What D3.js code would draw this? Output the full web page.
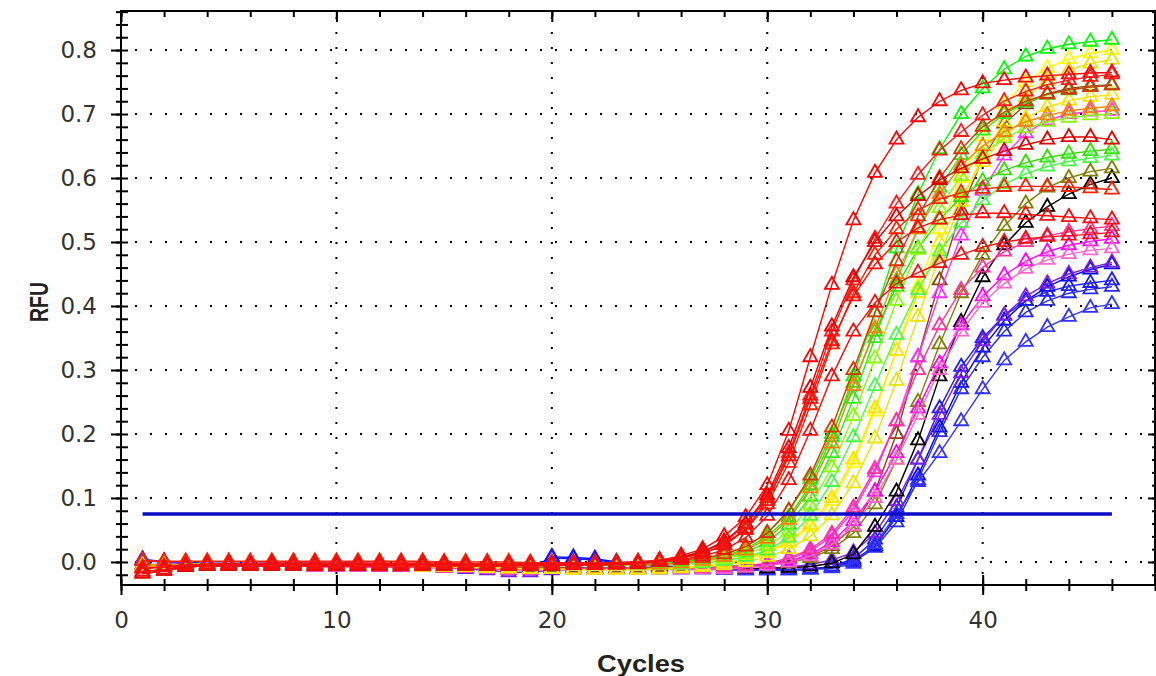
<!DOCTYPE html>
<html>
<head>
<meta charset="utf-8">
<script src="https://cdn.jsdelivr.net/npm/d3@7"></script>
<style>
html, body { margin: 0; padding: 0; background: #fff; }
svg { display: block; }
.tick text { font-family: "DejaVu Sans", sans-serif; font-size: 23px; fill: #333; }
.tick line { stroke: #000; stroke-width: 2; }
</style>
</head>
<body>
<svg id="canvas" width="1156" height="676"></svg>
<script>
// eje x: ciclos
const cycles = [1,2,3,4,5,6,7,8,9,10,11,12,13,14,15,16,17,18,19,20,21,22,23,24,25,26,27,28,29,30,31,32,33,34,35,36,37,38,39,40,41,42,43,44,45,46]
const xTicks = [0, 10, 20, 30, 40]
const yTicks = [0.0, 0.1, 0.2, 0.3, 0.4, 0.5, 0.6, 0.7, 0.8]
const threshold = 0.075

// curvas (RFU por ciclo)
const blue1 = [0.004,0.001,-0.001,-0.002,-0.002,-0.002,-0.002,-0.002,-0.002,-0.002,-0.002,-0.003,-0.003,-0.004,-0.005,-0.006,-0.008,-0.010,-0.010,0.008,0.007,0.005,0.000,-0.004,-0.006,-0.008,-0.010,-0.011,-0.012,-0.012,-0.012,-0.011,-0.008,0.002,0.025,0.070,0.135,0.210,0.280,0.335,0.377,0.408,0.430,0.446,0.457,0.465]
const blue2 = [0.002,0.000,-0.002,-0.003,-0.003,-0.003,-0.003,-0.003,-0.003,-0.003,-0.003,-0.004,-0.004,-0.005,-0.006,-0.007,-0.009,-0.011,-0.011,0.006,0.005,0.003,-0.001,-0.004,-0.006,-0.008,-0.010,-0.011,-0.012,-0.012,-0.012,-0.011,-0.007,0.005,0.035,0.085,0.160,0.240,0.305,0.350,0.385,0.408,0.422,0.431,0.436,0.440]
const blue3 = [-0.005,-0.005,-0.005,-0.005,-0.005,-0.005,-0.005,-0.005,-0.006,-0.006,-0.006,-0.006,-0.007,-0.007,-0.007,-0.008,-0.008,-0.009,-0.009,-0.009,-0.010,-0.010,-0.010,-0.010,-0.007,-0.009,-0.011,-0.012,-0.013,-0.013,-0.013,-0.012,-0.009,0.000,0.022,0.062,0.128,0.203,0.270,0.320,0.360,0.390,0.408,0.420,0.426,0.430]
const blue4 = [-0.004,-0.004,-0.004,-0.004,-0.004,-0.004,-0.005,-0.005,-0.005,-0.005,-0.006,-0.006,-0.006,-0.007,-0.007,-0.008,-0.008,-0.009,-0.009,-0.009,-0.009,-0.010,-0.010,-0.010,-0.007,-0.009,-0.011,-0.012,-0.013,-0.013,-0.013,-0.012,-0.010,-0.003,0.028,0.075,0.125,0.170,0.220,0.270,0.315,0.344,0.367,0.383,0.397,0.403]
const violet1 = [0.003,0.000,-0.002,-0.003,-0.003,-0.003,-0.003,-0.003,-0.004,-0.004,-0.005,-0.006,-0.007,-0.008,-0.009,-0.011,-0.013,-0.016,-0.016,-0.013,-0.012,-0.012,-0.012,-0.012,-0.012,-0.012,-0.012,-0.012,-0.011,-0.010,-0.008,-0.004,0.003,0.015,0.045,0.095,0.160,0.230,0.295,0.345,0.385,0.415,0.435,0.450,0.460,0.468]
const black1 = [-0.005,-0.005,-0.005,-0.005,-0.005,-0.005,-0.005,-0.005,-0.006,-0.006,-0.006,-0.006,-0.007,-0.007,-0.007,-0.008,-0.008,-0.009,-0.009,-0.009,-0.010,-0.010,-0.010,-0.010,-0.010,-0.010,-0.010,-0.010,-0.010,-0.010,-0.009,-0.007,-0.002,0.012,0.055,0.110,0.190,0.290,0.375,0.445,0.495,0.530,0.555,0.575,0.590,0.600]
const brown1 = [-0.005,-0.005,-0.005,-0.005,-0.005,-0.005,-0.005,-0.005,-0.006,-0.006,-0.006,-0.006,-0.007,-0.007,-0.007,-0.008,-0.008,-0.009,-0.009,-0.009,-0.010,-0.010,-0.010,-0.010,-0.008,-0.008,-0.008,-0.007,-0.006,-0.004,0.000,0.008,0.025,0.055,0.110,0.200,0.320,0.440,0.550,0.630,0.685,0.715,0.732,0.740,0.744,0.746]
const olive1 = [-0.005,-0.005,-0.005,-0.005,-0.005,-0.005,-0.005,-0.005,-0.006,-0.006,-0.006,-0.006,-0.007,-0.007,-0.007,-0.008,-0.008,-0.009,-0.009,-0.009,-0.010,-0.010,-0.010,-0.010,-0.009,-0.009,-0.009,-0.008,-0.007,-0.005,-0.001,0.006,0.020,0.045,0.090,0.160,0.250,0.340,0.420,0.480,0.525,0.560,0.585,0.600,0.610,0.615]
const magenta1 = [-0.006,-0.006,-0.006,-0.006,-0.006,-0.006,-0.006,-0.006,-0.007,-0.007,-0.007,-0.008,-0.008,-0.008,-0.009,-0.009,-0.010,-0.012,-0.012,-0.011,-0.011,-0.011,-0.011,-0.011,-0.011,-0.011,-0.010,-0.009,-0.007,-0.003,0.004,0.017,0.040,0.080,0.140,0.220,0.320,0.420,0.510,0.580,0.635,0.670,0.690,0.700,0.704,0.705]
const magenta2 = [-0.006,-0.006,-0.006,-0.006,-0.006,-0.006,-0.006,-0.006,-0.007,-0.007,-0.007,-0.008,-0.008,-0.008,-0.009,-0.009,-0.010,-0.012,-0.012,-0.011,-0.011,-0.011,-0.011,-0.011,-0.011,-0.011,-0.011,-0.010,-0.008,-0.005,0.001,0.012,0.031,0.064,0.110,0.170,0.240,0.310,0.370,0.415,0.448,0.470,0.485,0.495,0.501,0.505]
const pink1 = [-0.006,-0.006,-0.006,-0.006,-0.006,-0.006,-0.006,-0.006,-0.007,-0.007,-0.007,-0.008,-0.008,-0.008,-0.009,-0.009,-0.010,-0.012,-0.012,-0.011,-0.011,-0.011,-0.011,-0.011,-0.011,-0.011,-0.011,-0.011,-0.009,-0.006,-0.001,0.009,0.027,0.056,0.100,0.160,0.230,0.300,0.360,0.405,0.435,0.458,0.472,0.481,0.487,0.490]
const pink2 = [-0.006,-0.006,-0.006,-0.006,-0.006,-0.006,-0.006,-0.006,-0.007,-0.007,-0.007,-0.008,-0.008,-0.008,-0.009,-0.009,-0.010,-0.012,-0.012,-0.011,-0.011,-0.011,-0.011,-0.011,-0.010,-0.010,-0.009,-0.008,-0.006,-0.002,0.006,0.020,0.044,0.085,0.145,0.220,0.300,0.370,0.425,0.460,0.485,0.500,0.510,0.516,0.521,0.525]
const yellow1 = [-0.006,-0.005,-0.004,-0.004,-0.004,-0.004,-0.004,-0.004,-0.005,-0.005,-0.005,-0.006,-0.006,-0.007,-0.007,-0.008,-0.009,-0.010,-0.011,-0.011,-0.012,-0.012,-0.012,-0.012,-0.011,-0.009,-0.006,-0.002,0.004,0.014,0.030,0.055,0.095,0.155,0.235,0.330,0.430,0.520,0.600,0.665,0.715,0.750,0.772,0.786,0.795,0.800]
const yellow2 = [-0.006,-0.005,-0.004,-0.004,-0.004,-0.004,-0.004,-0.004,-0.005,-0.005,-0.005,-0.006,-0.006,-0.007,-0.007,-0.008,-0.009,-0.010,-0.011,-0.011,-0.012,-0.012,-0.012,-0.012,-0.012,-0.010,-0.008,-0.005,0.000,0.008,0.020,0.040,0.073,0.123,0.193,0.283,0.383,0.478,0.563,0.633,0.688,0.726,0.752,0.769,0.779,0.785]
const yellow3 = [-0.006,-0.005,-0.004,-0.004,-0.004,-0.004,-0.004,-0.004,-0.005,-0.005,-0.005,-0.006,-0.006,-0.007,-0.007,-0.008,-0.009,-0.010,-0.011,-0.011,-0.012,-0.012,-0.012,-0.012,-0.011,-0.009,-0.006,-0.002,0.005,0.016,0.032,0.058,0.100,0.160,0.240,0.330,0.420,0.500,0.570,0.625,0.665,0.693,0.711,0.721,0.727,0.730]
const green1 = [-0.008,-0.006,-0.004,-0.003,-0.003,-0.003,-0.003,-0.003,-0.003,-0.003,-0.003,-0.003,-0.003,-0.003,-0.003,-0.003,-0.004,-0.004,-0.004,-0.004,-0.004,-0.004,-0.004,-0.004,-0.003,0.000,0.004,0.010,0.020,0.040,0.070,0.120,0.195,0.290,0.390,0.490,0.575,0.645,0.700,0.740,0.770,0.790,0.802,0.809,0.813,0.816]
const green2 = [-0.008,-0.006,-0.004,-0.003,-0.003,-0.003,-0.003,-0.003,-0.003,-0.003,-0.003,-0.003,-0.003,-0.003,-0.003,-0.003,-0.004,-0.004,-0.004,-0.004,-0.004,-0.004,-0.004,-0.004,-0.004,-0.002,0.002,0.007,0.015,0.031,0.058,0.102,0.170,0.255,0.350,0.440,0.520,0.585,0.636,0.674,0.700,0.718,0.730,0.737,0.742,0.745]
const green3 = [-0.008,-0.006,-0.004,-0.003,-0.003,-0.003,-0.003,-0.003,-0.003,-0.003,-0.003,-0.003,-0.003,-0.003,-0.003,-0.003,-0.004,-0.004,-0.004,-0.004,-0.004,-0.004,-0.004,-0.004,-0.003,0.001,0.005,0.012,0.024,0.045,0.080,0.130,0.200,0.280,0.360,0.430,0.490,0.535,0.570,0.595,0.612,0.624,0.632,0.638,0.642,0.645]
const green4 = [-0.008,-0.006,-0.004,-0.003,-0.003,-0.003,-0.003,-0.003,-0.003,-0.003,-0.003,-0.003,-0.003,-0.003,-0.003,-0.003,-0.004,-0.004,-0.004,-0.004,-0.004,-0.004,-0.004,-0.004,-0.005,-0.004,-0.002,0.002,0.008,0.018,0.038,0.072,0.125,0.195,0.275,0.355,0.425,0.485,0.530,0.565,0.590,0.607,0.618,0.626,0.631,0.635]
const green5 = [-0.008,-0.006,-0.004,-0.003,-0.003,-0.003,-0.003,-0.003,-0.003,-0.003,-0.003,-0.003,-0.003,-0.003,-0.003,-0.003,-0.004,-0.004,-0.004,-0.004,-0.004,-0.004,-0.004,-0.004,-0.004,-0.002,0.001,0.005,0.012,0.025,0.048,0.088,0.148,0.228,0.318,0.408,0.488,0.553,0.603,0.638,0.662,0.678,0.688,0.694,0.698,0.700]
const orange1 = [-0.008,-0.006,-0.004,-0.003,-0.003,-0.003,-0.003,-0.003,-0.003,-0.003,-0.003,-0.003,-0.003,-0.003,-0.003,-0.003,-0.004,-0.004,-0.004,-0.004,-0.004,-0.004,-0.004,-0.004,-0.004,-0.002,0.002,0.008,0.018,0.036,0.066,0.115,0.185,0.275,0.365,0.450,0.520,0.575,0.620,0.650,0.672,0.688,0.698,0.705,0.709,0.712]
const orange2 = [-0.018,-0.014,-0.008,-0.006,-0.006,-0.006,-0.006,-0.006,-0.006,-0.006,-0.006,-0.006,-0.006,-0.006,-0.006,-0.006,-0.006,-0.006,-0.006,-0.006,-0.005,-0.005,-0.004,-0.003,0.000,0.003,0.006,0.012,0.024,0.045,0.080,0.135,0.210,0.300,0.390,0.470,0.540,0.600,0.645,0.680,0.703,0.720,0.731,0.738,0.742,0.745]
const red1 = [-0.010,-0.008,-0.005,-0.004,-0.004,-0.004,-0.004,-0.004,-0.004,-0.004,-0.004,-0.004,-0.004,-0.004,-0.004,-0.004,-0.005,-0.005,-0.005,-0.004,-0.004,-0.004,-0.003,-0.002,0.002,0.010,0.020,0.040,0.070,0.120,0.205,0.320,0.433,0.534,0.608,0.660,0.695,0.720,0.737,0.748,0.753,0.757,0.760,0.762,0.764,0.765]
const red2 = [-0.015,-0.012,-0.006,-0.004,-0.003,-0.003,-0.002,-0.002,-0.002,-0.002,-0.002,-0.002,-0.002,-0.002,-0.002,-0.003,-0.003,-0.003,-0.003,-0.002,-0.002,-0.002,-0.001,0.000,0.003,0.008,0.016,0.030,0.058,0.100,0.170,0.260,0.360,0.440,0.505,0.560,0.605,0.643,0.672,0.698,0.720,0.735,0.746,0.753,0.758,0.762]
const red3 = [-0.018,-0.014,-0.008,-0.006,-0.006,-0.006,-0.006,-0.006,-0.006,-0.006,-0.006,-0.006,-0.006,-0.006,-0.006,-0.006,-0.006,-0.006,-0.006,-0.006,-0.005,-0.005,-0.004,-0.003,0.002,0.007,0.016,0.032,0.060,0.104,0.178,0.272,0.368,0.445,0.500,0.540,0.572,0.597,0.615,0.630,0.642,0.652,0.660,0.664,0.664,0.660]
const red4 = [0.002,0.001,0.001,0.001,0.001,0.001,0.001,0.001,0.001,0.001,0.001,0.001,0.001,0.001,0.000,0.000,0.000,0.000,-0.001,-0.001,-0.001,-0.001,-0.001,0.000,0.002,0.006,0.013,0.026,0.050,0.090,0.155,0.245,0.340,0.420,0.480,0.520,0.550,0.567,0.577,0.583,0.586,0.587,0.587,0.586,0.584,0.582]
const red5 = [-0.010,-0.008,-0.005,-0.004,-0.004,-0.004,-0.004,-0.004,-0.004,-0.004,-0.004,-0.004,-0.004,-0.004,-0.004,-0.004,-0.005,-0.005,-0.005,-0.004,-0.004,-0.004,-0.003,-0.002,0.002,0.006,0.013,0.027,0.052,0.095,0.165,0.255,0.345,0.415,0.465,0.500,0.522,0.535,0.542,0.545,0.545,0.543,0.541,0.539,0.537,0.535]
const red6 = [-0.015,-0.012,-0.006,-0.004,-0.003,-0.003,-0.002,-0.002,-0.002,-0.002,-0.002,-0.002,-0.002,-0.002,-0.002,-0.003,-0.003,-0.003,-0.003,-0.002,-0.002,-0.002,-0.001,0.000,0.000,0.004,0.009,0.019,0.038,0.072,0.128,0.205,0.290,0.360,0.405,0.435,0.452,0.467,0.480,0.492,0.500,0.505,0.508,0.510,0.512,0.515]

// orden de dibujo: las rojas quedan encima
const seriesValues = [blue1, blue2, blue3, blue4, violet1, black1, brown1, olive1, magenta1, magenta2, pink1, pink2, yellow1, yellow2, yellow3, green1, green2, green3, green4, green5, orange1, orange2, red1, red2, red3, red4, red5, red6]
const seriesColors = ["#0000ff", "#1a1aff", "#2a2ae6", "#3333ff", "#7a1fe0", "#000000", "#8b4513", "#808000", "#ff33ff", "#ff00ff", "#ff66cc", "#ff3399", "#ffff00", "#e6e600", "#ffe600", "#00ff00", "#22ee22", "#33dd00", "#44ff44", "#88ff00", "#ff8000", "#dd3300", "#ff0000", "#ff1a1a", "#e00000", "#ff2200", "#ff0a0a", "#f01010"]

const svg = d3.select("#canvas")

const mLeft = 121, mRight = 1155, mTop = 11, mBottom = 585

const x = d3.scaleLinear().domain([0, 48]).range([mLeft, mRight])
const y = d3.scaleLinear().domain([-0.036, 0.861]).range([mBottom, mTop])

svg.append("rect").attr("width", 1156).attr("height", 676).attr("fill", "#fff")

// rejilla punteada
const grid = svg.append("g")
grid.selectAll("line.gx")
    .data(xTicks.filter(d => d > 0))
    .join("line")
    .attr("x1", d => x(d)).attr("x2", d => x(d))
    .attr("y1", mTop + 6).attr("y2", mBottom)
    .attr("stroke", "#000").attr("stroke-width", 2)
    .attr("stroke-dasharray", "2,13")
grid.selectAll("line.gy")
    .data(yTicks)
    .join("line")
    .attr("x1", mLeft + 14).attr("x2", mRight - 4)
    .attr("y1", d => y(d)).attr("y2", d => y(d))
    .attr("stroke", "#000").attr("stroke-width", 2)
    .attr("stroke-dasharray", "2,13")

// curvas con triangulos
const line = d3.line()
    .x((d, i) => x(cycles[i]))
    .y(d => y(d))
const tri = d3.symbol().type(d3.symbolTriangle).size(85)

const curvas = svg.append("g")
seriesValues.forEach((vals, k) => {
    const g = curvas.append("g")
    g.append("path")
        .attr("d", line(vals))
        .attr("fill", "none")
        .attr("stroke", seriesColors[k])
        .attr("stroke-width", 1.4)
    g.selectAll("path.m")
        .data(vals)
        .join("path")
        .attr("class", "m")
        .attr("d", tri)
        .attr("transform", (d, i) => "translate(" + x(cycles[i]) + "," + y(d) + ")")
        .attr("fill", "none")
        .attr("stroke", seriesColors[k])
        .attr("stroke-width", 1.8)
})

// linea umbral
svg.append("line")
    .attr("x1", x(cycles[0])).attr("x2", x(cycles[cycles.length - 1]))
    .attr("y1", y(threshold)).attr("y2", y(threshold))
    .attr("stroke", "#0a0ac8").attr("stroke-width", 3.5)

// marco
svg.append("rect")
    .attr("x", mLeft).attr("y", mTop)
    .attr("width", mRight - mLeft).attr("height", mBottom - mTop)
    .attr("fill", "none").attr("stroke", "#000").attr("stroke-width", 2)

const xMinor = x.ticks(24)
const yMinor = y.ticks(45)

// cada eje en su propio grupo para que los ticks no se mezclen
function eje(tx, ty, axis) {
    svg.append("g")
        .attr("transform", "translate(" + tx + "," + ty + ")")
        .call(axis)
}

// eje inferior (ticks cruzan la linea)
eje(0, mBottom, d3.axisBottom(x).tickValues(xMinor).tickSize(6).tickFormat(""))
eje(0, mBottom, d3.axisTop(x).tickValues(xMinor).tickSize(6).tickFormat(""))
eje(0, mBottom, d3.axisTop(x).tickValues(xTicks).tickSize(10).tickFormat(""))
eje(0, mBottom, d3.axisBottom(x).tickValues(xTicks).tickSize(10).tickPadding(17).tickFormat(d3.format("d")))

// eje superior
eje(0, mTop, d3.axisBottom(x).tickValues(xMinor).tickSize(6).tickFormat(""))
eje(0, mTop, d3.axisBottom(x).tickValues(xTicks).tickSize(11).tickFormat(""))

// eje izquierdo
eje(mLeft, 0, d3.axisRight(y).tickValues(yMinor).tickSize(7).tickFormat(""))
eje(mLeft, 0, d3.axisLeft(y).tickValues(yMinor).tickSize(5).tickFormat(""))
eje(mLeft, 0, d3.axisLeft(y).tickValues(yTicks).tickSize(10).tickPadding(14).tickFormat(d3.format(".1f")))

// eje derecho
eje(mRight, 0, d3.axisLeft(y).tickValues(yMinor).tickSize(3).tickFormat(""))
eje(mRight, 0, d3.axisLeft(y).tickValues(yTicks).tickSize(7).tickFormat(""))

svg.selectAll(".domain").remove()

// titulos
svg.append("text")
    .attr("x", 641).attr("y", 672)
    .attr("text-anchor", "middle")
    .attr("font-family", "'Liberation Sans', Arial, sans-serif")
    .attr("font-weight", "bold")
    .attr("font-size", 24)
    .attr("fill", "#222")
    .attr("textLength", 88).attr("lengthAdjust", "spacingAndGlyphs")
    .text("Cycles")

svg.append("text")
    .attr("transform", "translate(48,302) rotate(-90)")
    .attr("text-anchor", "middle")
    .attr("font-family", "'Liberation Sans', Arial, sans-serif")
    .attr("font-weight", "bold")
    .attr("font-size", 26)
    .attr("fill", "#222")
    .attr("textLength", 40).attr("lengthAdjust", "spacingAndGlyphs")
    .text("RFU")
</script>
</body>
</html>
